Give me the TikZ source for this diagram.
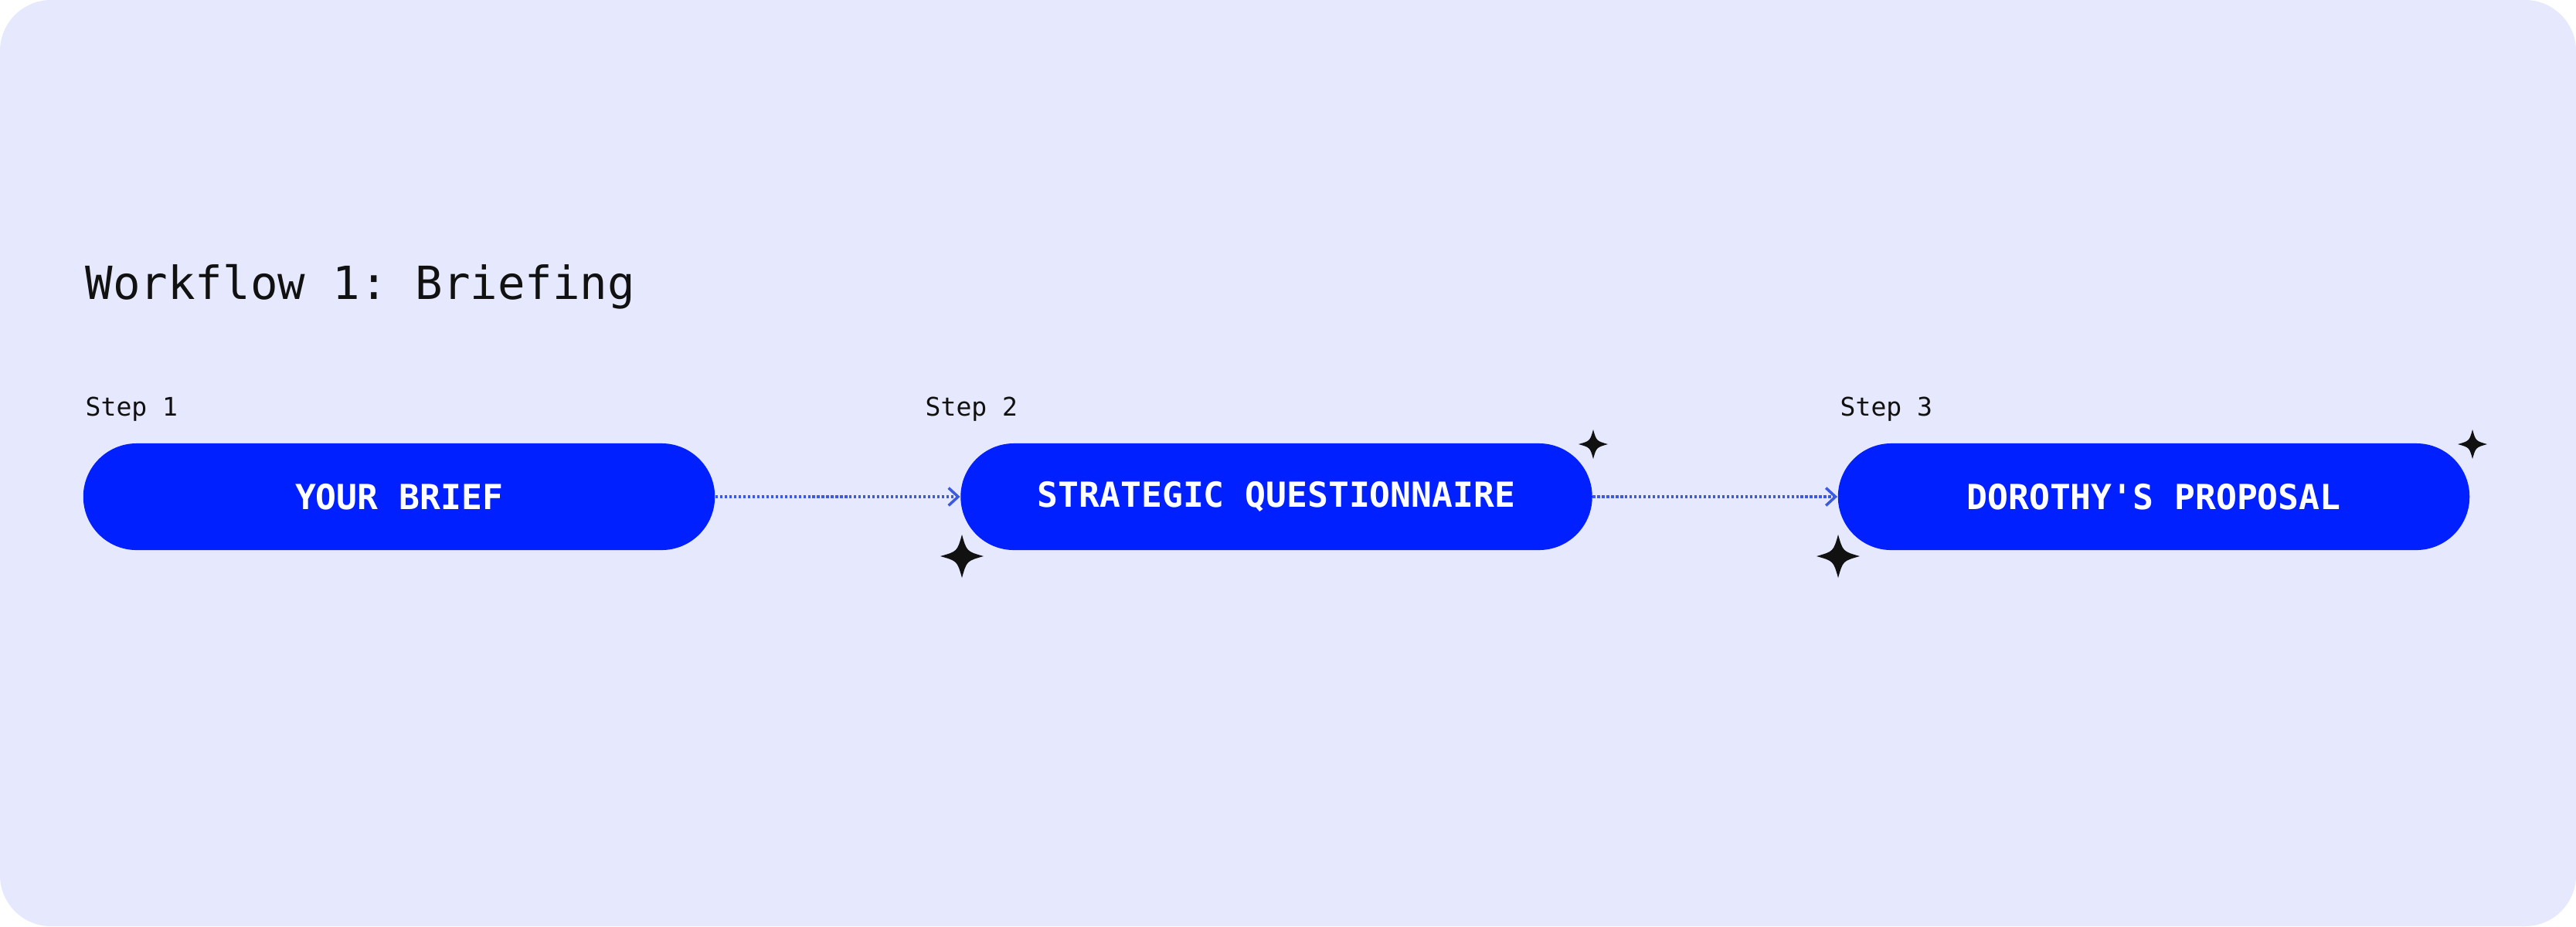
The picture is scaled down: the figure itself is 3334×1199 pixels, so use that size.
\documentclass[tikz,border=0pt]{standalone}
\usepackage{fontspec}
\setmonofont{DejaVu Sans Mono}
\usetikzlibrary{arrows.meta,positioning}
\definecolor{lavender}{RGB}{230,233,253}
\definecolor{pillblue}{RGB}{0,32,255}
\definecolor{dotblue}{RGB}{60,90,225}
\definecolor{ink}{RGB}{17,17,17}
\tikzstyle{pill}=[shape=rectangle,fill=pillblue,text=white,rounded corners=0.69cm,minimum width=8.17cm,minimum height=1.38cm,inner sep=0pt,font=\ttfamily\bfseries\fontsize{12.7}{15}\selectfont]
\tikzstyle{steplabel}=[anchor=base west,inner sep=0pt,text=ink,font=\ttfamily\fontsize{9.4}{11}\selectfont]
\tikzstyle{flowedge}=[-{Straight Barb[length=3.5pt,width=6.5pt,line width=1pt]},draw=dotblue,line width=1pt,dash pattern=on 0.9pt off 0.8pt]
\newcommand{\sparkle}[3]{\fill[ink,shift={(#1,#2)},scale=#3] (0,-1) .. controls (0.22,-0.22) .. (1,0) .. controls (0.22,0.22) .. (0,1) .. controls (-0.22,0.22) .. (-1,0) .. controls (-0.22,-0.22) .. (0,-1) -- cycle;}
\begin{document}
\begin{tikzpicture}[x=0.01cm,y=-0.01cm]

  \useasboundingbox (0,0) rectangle (3334,1199);
  \fill[white] (0,0) rectangle (3334,1199);
  \fill[lavender,rounded corners=0.66cm] (0,0) rectangle (3334,1199);

  \node at (110,387) [anchor=base west,inner sep=0pt,text=ink,font=\ttfamily\fontsize{16.8}{20}\selectfont] (title) {Workflow 1: Briefing};

  \node[steplabel] (S1) at (110,538) {Step 1};
  \node[steplabel] (S2) at (1197,538) {Step 2};
  \node[steplabel] (S3) at (2381,538) {Step 3};

  \node[pill] (BRIEF) at (516.5,643) {YOUR BRIEF};
  \node[pill] (QUEST) at (1652,643) {STRATEGIC QUESTIONNAIRE};
  \node[pill] (PROP) at (2787.5,643) {DOROTHY'S PROPOSAL};

  \path
  (BRIEF) edge [flowedge] (QUEST)
  (QUEST) edge [flowedge] (PROP);

  \sparkle{1245}{720}{28}
  \sparkle{2062}{575}{19}
  \sparkle{2379}{720}{28}
  \sparkle{3200}{575}{19}

\end{tikzpicture}
\end{document}
